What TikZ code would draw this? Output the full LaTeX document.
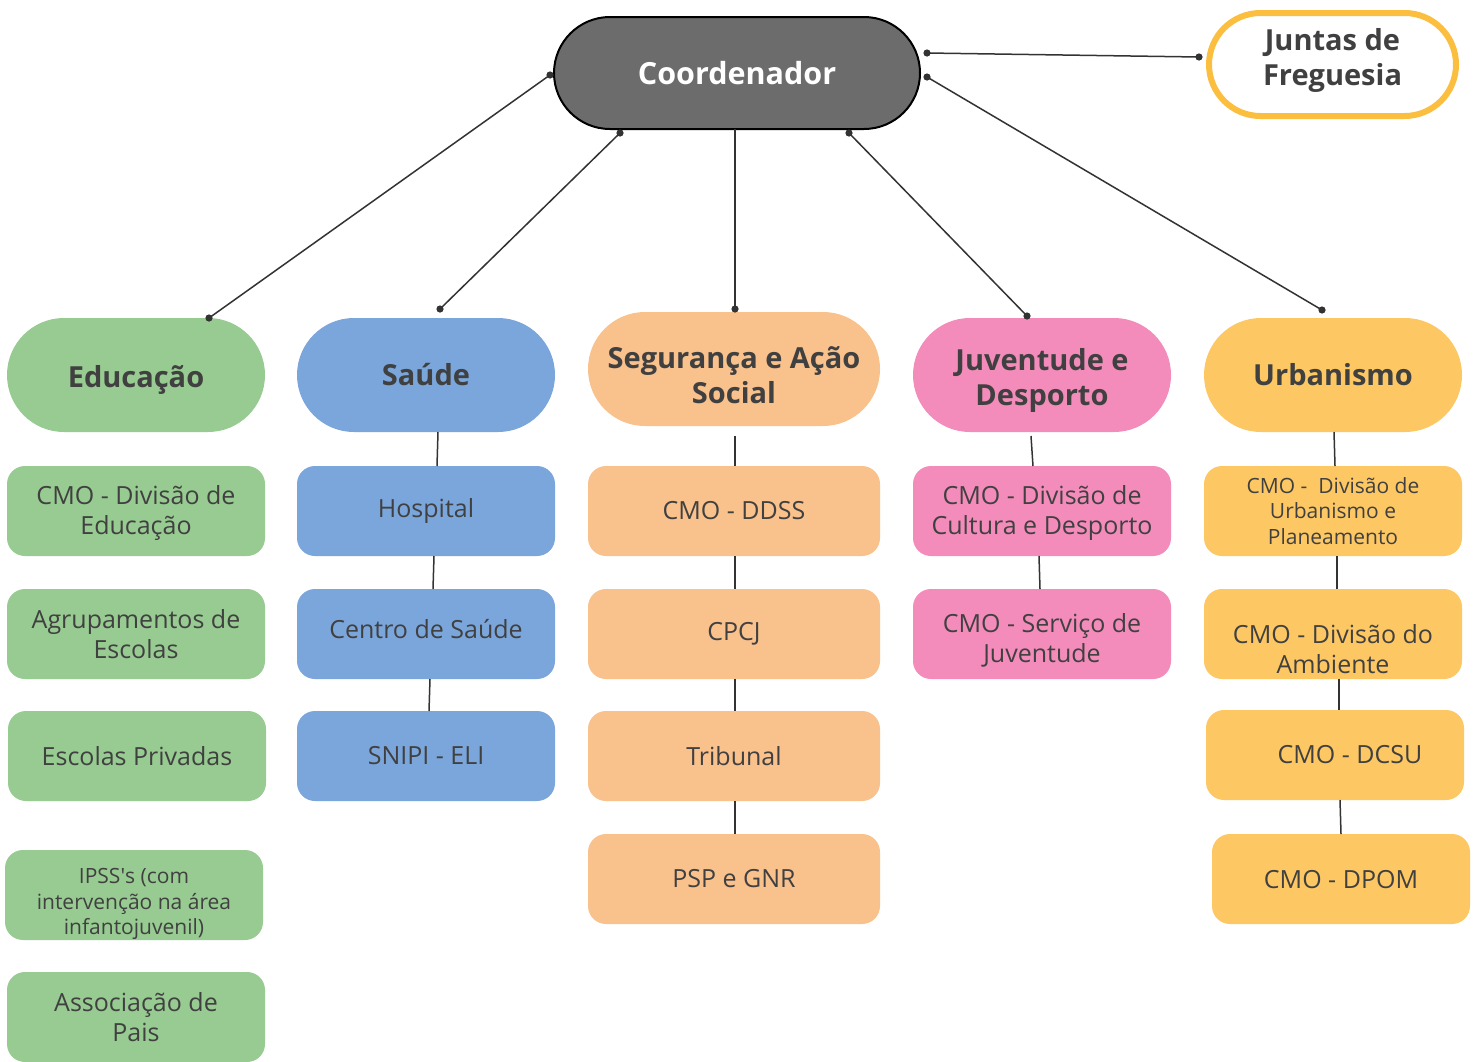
\documentclass[tikz,border=0pt]{standalone}
\usepackage{fontspec}
\setmainfont{Open Sans}
\usetikzlibrary{calc}
\definecolor{txt}{HTML}{404040}
\definecolor{ln}{HTML}{333333}
\definecolor{gr}{HTML}{97CB91}
\definecolor{bl}{HTML}{7BA6DB}
\definecolor{orc}{HTML}{F9C18C}
\definecolor{pk}{HTML}{F38CBB}
\definecolor{yl}{HTML}{FDC864}
\definecolor{cg}{HTML}{6B6C6B}
\definecolor{jy}{HTML}{FBBE3E}
\newcommand{\myfbig}{\bfseries\fontsize{29}{35}\selectfont}
\newcommand{\myfreg}{\fontsize{25}{30}\selectfont}
\newcommand{\myfsml}{\fontsize{21}{25.5}\selectfont}
\begin{document}
\begin{tikzpicture}[x=1pt,y=-1pt,
  coordbox/.style={rectangle, rounded corners=56pt, minimum width=366pt, minimum height=112pt, inner sep=0pt, outer sep=0pt, fill=cg, draw=black, line width=2pt, text=white, font=\bfseries\fontsize{30.5}{36}\selectfont},
  juntas/.style={rectangle, rounded corners=51.5pt, minimum width=247pt, minimum height=103pt, inner sep=0pt, outer sep=0pt, fill=white, draw=jy, line width=6pt},
  head/.style={rectangle, rounded corners=57pt, minimum width=258pt, minimum height=114pt, inner sep=0pt, outer sep=0pt, align=center, text=txt, font=\myfbig},
  box/.style={rectangle, rounded corners=18pt, minimum width=258pt, minimum height=90pt, inner sep=0pt, outer sep=0pt, align=center, text=txt, font=\myfreg},
  small/.style={font=\myfsml},
  lbig/.style={text=txt, align=center, font=\myfbig},
  lreg/.style={text=txt, align=center, font=\myfreg},
  lsml/.style={text=txt, align=center, font=\myfsml},
  conn/.style={draw=ln, line width=1.5pt},
  dot/.style={fill=ln}
]
\useasboundingbox (0,0) rectangle (1474,1061);
\fill[white] (0,0) rectangle (1474,1061);

% top nodes
\node[coordbox] (coord) at (737,73) {Coordenador};
\node[juntas, label={[lbig, yshift=4pt]center:Juntas de\\Freguesia}] (jf) at (1332.5,64.5) {};

% heading row
\node[head, fill=gr, label={[lbig, yshift=-5pt]center:Educação}] (edu) at (136,375) {};
\node[head, fill=bl] (sau) at (426,375) {Saúde};
\node[head, fill=orc, minimum width=292pt, label={[lbig, yshift=-6pt]center:Segurança e Ação\\Social}] (seg) at (734,369) {};
\node[head, fill=pk, label={[lbig, yshift=-5pt]center:Juventude e\\Desporto}] (juv) at (1042,375) {};
\node[head, fill=yl] (urb) at (1333,375) {Urbanismo};

% Educação column
\node[box, fill=gr, label={[lreg, yshift=-2pt]center:CMO - Divisão de\\Educação}] (edu1) at (136,511) {};
\node[box, fill=gr] (edu2) at (136,634) {Agrupamentos de\\Escolas};
\node[box, fill=gr] (edu3) at (137,756) {Escolas Privadas};
\node[box, fill=gr, label={[lsml, yshift=-9pt]center:IPSS\textquotesingle s (com\\intervenção na área\\infantojuvenil)}] (edu4) at (134,895) {};
\node[box, fill=gr] (edu5) at (136,1017) {Associação de\\Pais};

% Saúde column
\node[box, fill=bl] (sau1) at (426,511) {Hospital};
\node[box, fill=bl, label={[lreg, yshift=5pt]center:Centro de Saúde}] (sau2) at (426,634) {};
\node[box, fill=bl] (sau3) at (426,756) {SNIPI - ELI};

% Segurança column
\node[box, fill=orc, minimum width=292pt] (seg1) at (734,511) {CMO - DDSS};
\node[box, fill=orc, minimum width=292pt] (seg2) at (734,634) {CPCJ};
\node[box, fill=orc, minimum width=292pt] (seg3) at (734,756) {Tribunal};
\node[box, fill=orc, minimum width=292pt] (seg4) at (734,879) {PSP e GNR};

% Juventude column
\node[box, fill=pk, label={[lreg, yshift=-2pt]center:CMO - Divisão de\\Cultura e Desporto}] (juv1) at (1042,511) {};
\node[box, fill=pk, label={[lreg, yshift=-6pt]center:CMO - Serviço de\\Juventude}] (juv2) at (1042,634) {};

% Urbanismo column
\node[box, fill=yl, small] (urb1) at (1333,511) {CMO -\ \ Divisão de\\Urbanismo e\\Planeamento};
\node[box, fill=yl, label={[lreg, yshift=-15pt]center:CMO - Divisão do\\Ambiente}] (urb2) at (1333,634) {};
\node[box, fill=yl, label={[lreg, xshift=15pt]center:CMO - DCSU}] (urb3) at (1335,755) {};
\node[box, fill=yl, label={[lreg, yshift=-1pt]center:CMO - DPOM}] (urb4) at (1341,879) {};

% connector end points
\coordinate (a1) at ($(coord.west)+(-4,2)$);
\coordinate (b1) at ($(edu.north)+(73,0)$);
\coordinate (a2) at ($(coord.south)+(-117,4)$);
\coordinate (b2) at ($(sau.north)+(14,-9)$);
\coordinate (a3) at ($(coord.south)+(-2,0)$);
\coordinate (b3) at ($(seg.north)+(1,-3)$);
\coordinate (a4) at ($(coord.south)+(112,4)$);
\coordinate (b4) at ($(juv.north)+(-15,-2)$);
\coordinate (a5) at ($(coord.east)+(7,4)$);
\coordinate (b5) at ($(urb.north)+(-11,-8)$);
\coordinate (a6) at ($(coord.east)+(7,-20)$);
\coordinate (b6) at ($(jf.west)+(-10,-7.5)$);

\draw[conn] (a1) -- (b1);
\draw[conn] (a2) -- (b2);
\draw[conn] (a3) -- (b3);
\draw[conn] (a4) -- (b4);
\draw[conn] (a5) -- (b5);
\draw[conn] (a6) -- (b6);
\foreach \p in {a1,b1,a2,b2,b3,a4,b4,a5,b5,a6,b6}
  \fill[dot] (\p) circle (3.6pt);

% column connectors
\draw[conn] ($(sau.south)+(12,0)$) -- ($(sau1.north)+(11,0)$);
\draw[conn] ($(sau1.south)+(8,0)$) -- ($(sau2.north)+(7,0)$);
\draw[conn] ($(sau2.south)+(4,0)$) -- ($(sau3.north)+(3,0)$);

\draw[conn] ($(seg.south)+(1,10)$) -- ($(seg1.north)+(1,0)$);
\draw[conn] ($(seg1.south)+(1,0)$) -- ($(seg2.north)+(1,0)$);
\draw[conn] ($(seg2.south)+(1,0)$) -- ($(seg3.north)+(1,0)$);
\draw[conn] ($(seg3.south)+(1,0)$) -- ($(seg4.north)+(1,0)$);

\draw[conn] ($(juv.south)+(-11,4)$) -- ($(juv1.north)+(-9,0)$);
\draw[conn] ($(juv1.south)+(-3,0)$) -- ($(juv2.north)+(-2,0)$);

\draw[conn] ($(urb.south)+(1,0)$) -- ($(urb1.north)+(2,0)$);
\draw[conn] ($(urb1.south)+(4,0)$) -- ($(urb2.north)+(4,0)$);
\draw[conn] ($(urb2.south)+(6,0)$) -- ($(urb3.north)+(4,0)$);
\draw[conn] ($(urb3.south)+(5,0)$) -- ($(urb4.north)+(0,0)$);
\end{tikzpicture}
\end{document}
